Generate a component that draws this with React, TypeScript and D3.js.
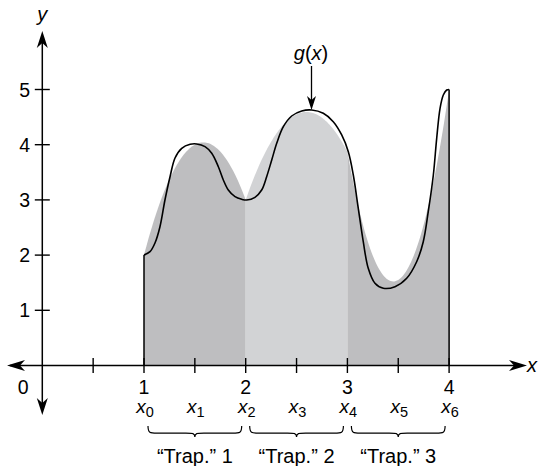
import React from "react";
import * as d3 from "d3";

// g(x) curve samples
const gX = [1.0, 1.059, 1.108, 1.157, 1.206, 1.256, 1.305, 1.371, 1.454, 1.518, 1.6, 1.666, 1.731, 1.78, 1.829, 1.895, 1.961, 2.01, 2.091, 2.157, 2.206, 2.256, 2.305, 2.37, 2.452, 2.551, 2.649, 2.763, 2.861, 2.944, 3.009, 3.058, 3.107, 3.156, 3.205, 3.271, 3.353, 3.468, 3.583, 3.681, 3.746, 3.795, 3.845, 3.878, 3.911, 3.943, 3.976, 4.0];
const gY = [2.0, 2.062, 2.219, 2.514, 2.998, 3.42, 3.759, 3.935, 4.007, 4.013, 3.964, 3.844, 3.601, 3.361, 3.179, 3.058, 3.011, 2.998, 3.047, 3.179, 3.42, 3.723, 4.025, 4.326, 4.52, 4.611, 4.629, 4.569, 4.417, 4.176, 3.873, 3.451, 2.848, 2.243, 1.761, 1.489, 1.399, 1.428, 1.58, 1.88, 2.243, 2.786, 3.451, 4.116, 4.659, 4.9, 4.991, 5.0];

// Simpson nodes x0..x6 and the values the parabolic arcs pass through
const nodeX = [1, 1.5, 2, 2.5, 3, 3.5, 4];
const nodeY = [2, 4, 3, 4.55, 3.87, 1.55, 5];
const nodeNames = ["0", "1", "2", "3", "4", "5", "6"];
const panelFill = ["#bebec0", "#d2d3d5", "#bebec0"];
const trapLabels = ["“Trap.” 1", "“Trap.” 2", "“Trap.” 3"];

const xTicks = [0.5, 1, 1.5, 2, 2.5, 3, 3.5, 4];
const xTickLabels = [1, 2, 3, 4];
const yTicks = [1, 2, 3, 4, 5];

const FONT = "'Liberation Sans', Arial, sans-serif";

const x = d3.scaleLinear().domain([0, 4]).range([42.3, 449.1]);
const y = d3.scaleLinear().domain([0, 5]).range([365.5, 89.5]);

function parabola(i: number) {
  const xs = [nodeX[2 * i], nodeX[2 * i + 1], nodeX[2 * i + 2]];
  const ys = [nodeY[2 * i], nodeY[2 * i + 1], nodeY[2 * i + 2]];
  const f = (t: number) => {
    let s = 0;
    for (let a = 0; a < 3; a++) {
      let l = 1;
      for (let b = 0; b < 3; b++) if (a !== b) l *= (t - xs[b]) / (xs[a] - xs[b]);
      s += ys[a] * l;
    }
    return s;
  };
  return d3.range(0, 81).map((k) => {
    const t = xs[0] + ((xs[2] - xs[0]) * k) / 80;
    return [t, f(t)] as [number, number];
  });
}

function arrow(tx: number, ty: number, dir: "r" | "l" | "u" | "d", len = 17, hw = 5.5, notch = 12) {
  const pts: [number, number][] = [
    [0, 0],
    [-len, -hw],
    [-notch, 0],
    [-len, hw],
  ];
  const rot = (p: [number, number]): [number, number] => {
    const [a, b] = p;
    if (dir === "r") return [tx + a, ty + b];
    if (dir === "l") return [tx - a, ty + b];
    if (dir === "d") return [tx + b, ty + a];
    return [tx + b, ty - a];
  };
  return "M" + pts.map((p) => rot(p).join(",")).join("L") + "Z";
}

function brace(x1: number, x2: number, yt: number, h: number) {
  const cx = (x1 + x2) / 2;
  const ym = yt + h * 0.65;
  const yb = yt + h;
  const q = 9;
  return `M${x1},${yt} C${x1},${ym} ${x1 + 2},${ym} ${x1 + q},${ym} L${cx - q},${ym} C${cx - 2},${ym} ${cx},${ym} ${cx},${yb} C${cx},${ym} ${cx + 2},${ym} ${cx + q},${ym} L${x2 - q},${ym} C${x2 - 2},${ym} ${x2},${ym} ${x2},${yt}`;
}

export default function App() {
  const area = d3
    .area<[number, number]>()
    .x((d) => x(d[0]))
    .y0(y(0))
    .y1((d) => y(d[1]));
  const line = d3
    .line<number>()
    .x((_, i) => x(gX[i]))
    .y((d) => y(d))
    .curve(d3.curveCatmullRom.alpha(0.5));

  return (
    <svg width={540} height={466} style={{ position: "absolute", left: 0, top: 0, background: "#fff" }} fontFamily={FONT}>
      {[0, 1, 2].map((i) => (
        <path key={i} d={area(parabola(i)) || ""} fill={panelFill[i]} />
      ))}
      {/* vertical edges */}
      <line x1={x(nodeX[0])} x2={x(nodeX[0])} y1={y(0)} y2={y(gY[0])} stroke="#000" strokeWidth={1.5} />
      <line x1={x(nodeX[6])} x2={x(nodeX[6])} y1={y(0)} y2={y(gY[gY.length - 1])} stroke="#000" strokeWidth={1.5} />
      {/* g(x) */}
      <path d={line(gY) || ""} fill="none" stroke="#000" strokeWidth={1.6} />

      {/* axes */}
      <line x1={10} x2={522} y1={y(0)} y2={y(0)} stroke="#000" strokeWidth={1.5} />
      <line x1={x(0)} x2={x(0)} y1={36} y2={410} stroke="#000" strokeWidth={1.5} />
      <path d={arrow(527, y(0), "r", 18, 5.5, 13)} fill="#000" />
      <path d={arrow(7, y(0), "l", 18, 5.5, 13)} fill="#000" />
      <path d={arrow(x(0), 31, "u", 17, 5.5, 12)} fill="#000" />
      <path d={arrow(x(0), 415, "d", 17, 5.5, 12)} fill="#000" />

      {xTicks.map((t) => (
        <line key={t} x1={x(t)} x2={x(t)} y1={y(0) - 7.5} y2={y(0) + 7.5} stroke="#000" strokeWidth={1.4} />
      ))}
      {yTicks.map((t) => (
        <line key={t} x1={x(0) - 7.5} x2={x(0) + 7.5} y1={y(t)} y2={y(t)} stroke="#000" strokeWidth={1.4} />
      ))}
      {yTicks.map((t) => (
        <text key={t} x={30} y={y(t) + 7} textAnchor="end" fontSize={19.5}>
          {t}
        </text>
      ))}
      <text x={x(0) - 19} y={394} textAnchor="middle" fontSize={19.5}>
        0
      </text>
      {xTickLabels.map((t) => (
        <text key={t} x={x(t)} y={394} textAnchor="middle" fontSize={19.5}>
          {t}
        </text>
      ))}
      {nodeX.map((v, i) => (
        <text key={i} x={x(v) + 1} y={413} textAnchor="middle" fontSize={19}>
          <tspan fontStyle="italic">x</tspan>
          <tspan fontSize={14.5} dy={4}>
            {nodeNames[i]}
          </tspan>
        </text>
      ))}
      {[0, 1, 2].map((i) => (
        <g key={i}>
          <path d={brace(x(nodeX[2 * i]) + 4, x(nodeX[2 * i + 2]) - 4, 426, 11)} fill="none" stroke="#000" strokeWidth={1.2} />
          <text x={x(nodeX[2 * i + 1])} y={463} textAnchor="middle" fontSize={20}>
            {trapLabels[i]}
          </text>
        </g>
      ))}

      {/* axis labels */}
      <text x={x(0)} y={21} textAnchor="middle" fontSize={20} fontStyle="italic">
        y
      </text>
      <text x={527} y={372} fontSize={20} fontStyle="italic">
        x
      </text>

      {/* g(x) annotation */}
      <text x={311} y={60} textAnchor="middle" fontSize={20}>
        <tspan fontStyle="italic">g</tspan>(<tspan fontStyle="italic">x</tspan>)
      </text>
      <line x1={311.5} x2={311.5} y1={66} y2={100} stroke="#000" strokeWidth={1.3} />
      <path d={arrow(311.5, 110, "d", 14, 4.5, 10)} fill="#000" />
    </svg>
  );
}
